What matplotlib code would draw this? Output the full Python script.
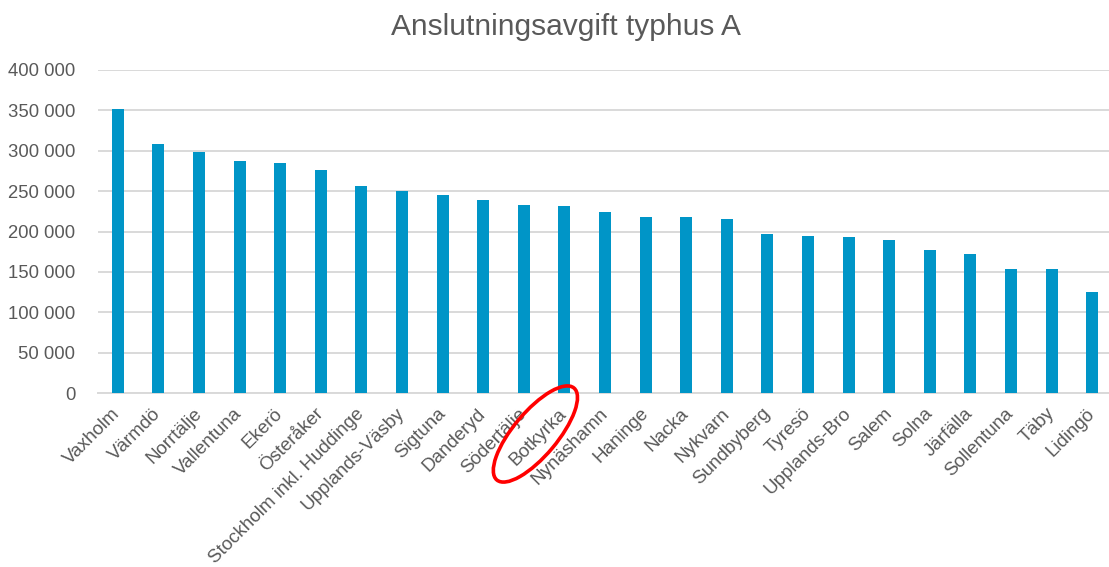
import matplotlib.pyplot as plt
import matplotlib.ticker as mticker
from matplotlib.patches import Ellipse
from matplotlib.transforms import IdentityTransform

kommuner = ['Vaxholm', 'Värmdö', 'Norrtälje', 'Vallentuna', 'Ekerö', 'Österåker',
            'Stockholm inkl. Huddinge', 'Upplands-Väsby', 'Sigtuna', 'Danderyd',
            'Södertälje', 'Botkyrka', 'Nynäshamn', 'Haninge', 'Nacka', 'Nykvarn',
            'Sundbyberg', 'Tyresö', 'Upplands-Bro', 'Salem', 'Solna', 'Järfälla',
            'Sollentuna', 'Täby', 'Lidingö']
avgift = [351500, 307900, 297900, 286700, 285100, 276300, 256800, 250600, 245600,
          239000, 232800, 231500, 224400, 217800, 217800, 215300, 197500, 194600,
          193400, 189700, 177300, 171900, 153700, 153700, 124800]
yticks = [0, 50000, 100000, 150000, 200000, 250000, 300000, 350000, 400000]
markerad = 'Botkyrka'

plt.rcParams['font.family'] = ['Liberation Sans', 'DejaVu Sans']
grey = '#595959'

fig = plt.figure(figsize=(11.09, 5.67), dpi=100)
ax = fig.add_axes([97.5 / 1109, 1 - 393 / 567, 1015 / 1109, 323 / 567])

x = range(len(kommuner))
ax.bar(x, avgift, width=0.30, color='#0095c7', zorder=3)

ax.set_xlim(-0.5, len(kommuner) - 0.5)
ax.set_ylim(0, 400000)
ax.set_yticks(yticks)
ax.yaxis.set_major_formatter(mticker.FuncFormatter(lambda v, p: f'{int(v):,}'.replace(',', ' ')))
ax.set_xticks(list(x))
ax.set_xticklabels(kommuner, rotation=45, ha='right', va='center', rotation_mode='anchor')

ax.tick_params(axis='y', length=0, pad=16, labelsize=13.3, labelcolor=grey)
ax.tick_params(axis='x', length=0, pad=13, labelsize=13.5, labelcolor=grey)
ax.grid(axis='y', color='#d9d9d9', linewidth=1.4, zorder=0)
for s in ['top', 'right', 'left']:
    ax.spines[s].set_visible(False)
ax.spines['bottom'].set_color('#d9d9d9')
ax.spines['bottom'].set_linewidth(1.4)

fig.text(0.51, 1 - 27 / 567, 'Anslutningsavgift typhus A', ha='center', va='center',
         fontsize=21.5, color=grey)

# röd ring runt Botkyrka
px, py = ax.transData.transform((kommuner.index(markerad), 0))
ring = Ellipse((px - 29, py - 41), 120, 44, angle=50, fill=False,
               edgecolor='#ff0000', linewidth=2.6, transform=IdentityTransform())
fig.add_artist(ring)

fig.savefig('out.png', dpi=100)
